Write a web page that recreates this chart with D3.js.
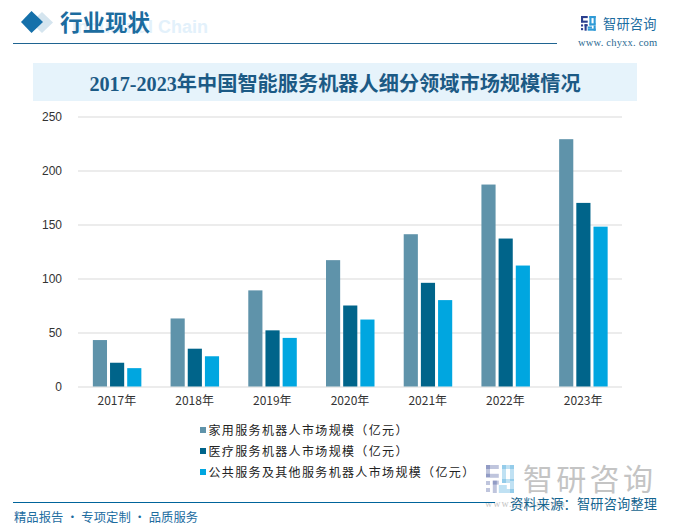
<!DOCTYPE html>
<html><head><meta charset="utf-8">
<script src="https://cdn.jsdelivr.net/npm/d3@7"></script>
<style>html,body{margin:0;padding:0;background:#fff}svg{display:block}</style>
</head><body><svg id="c" width="673" height="529"></svg>
<script>
const categories=["2017年","2018年","2019年","2020年","2021年","2022年","2023年"];
const seriesNames=["家用服务机器人市场规模（亿元）","医疗服务机器人市场规模（亿元）","公共服务及其他服务机器人市场规模（亿元）"];
const homeValues=[43,63,89,117,141,187,229];
const medicalValues=[22,35,52,75,96,137,170];
const publicValues=[17,28,45,62,80,112,148];
const seriesColors=["#5f93aa","#00648a","#00a6e0"];
const yTicks=[0,50,100,150,200,250];
const allSeries=[homeValues,medicalValues,publicValues];
const CJK='"Noto Sans CJK SC",sans-serif';
const svg=d3.select("#c");

function t(x,y,s,size,fill,o={}){
  return svg.append("text").attr("x",x).attr("y",y).text(s)
    .attr("font-size",size).attr("fill",fill)
    .attr("font-family",o.family||CJK)
    .attr("font-weight",o.weight||400)
    .attr("text-anchor",o.anchor||"start")
    .attr("letter-spacing",o.ls||0)
    .attr("opacity",o.op==null?1:o.op);
}
function rect(x,y,w,h,f,op=1){svg.append("rect").attr("x",x).attr("y",y).attr("width",w).attr("height",h).attr("fill",f).attr("opacity",op);}
function logo(x,y,s,op){
  const c1="#2b3f8f",c2="#2f9ad6";
  [[0,0,6.4,2,c1],[0,0,2,6,c1],[0,4.4,6.4,2,c1],[0,8,2,2,c1],[0,11.5,2,2,c1],[3.4,7.8,3,2,c1],[3.4,7.8,2,6.2,c1],
   [8,0,6,2,c2],[12,0,2,8,c2],[8,0,2,9,c2],[8,7,6,2,c2],[6.4,12,7.6,2,c2],[12,9,2,5,c2],[6.4,10,4,2,c2]]
   .forEach(r=>rect(x+r[0]*s,y+r[1]*s,r[2]*s,r[3]*s,r[4],op));
}

// header
t(72,33,"Industrial Chain",18,"#e3f1fb",{family:'"Liberation Sans",sans-serif',weight:700});
svg.append("path").attr("d","M42 12 L53 22.5 L42 33 L31 22.5 Z").attr("fill","#d5e5ef");
svg.append("path").attr("d","M31.5 11 L43 22 L31.5 33 L21 22 Z").attr("fill","#1570aa");
t(60,30.5,"行业现状",22.5,"#1c6c9f",{weight:700});
rect(13,43,544,1,"#1f6491");
logo(581,16,1.05,1);
t(603,29,"智研咨询",13.2,"#1c6c9f",{ls:.2});
t(578,46,"www. chyxx. com",10.5,"#2a6a92",{family:'"Liberation Serif",serif',ls:.2});

// title band
rect(33,63,604,38,"#e6f3fb");
t(335,91,"2017-2023年中国智能服务机器人细分领域市场规模情况",20.2,"#1c5a85",{anchor:"middle",weight:700,family:'"Liberation Serif","Noto Sans CJK SC",serif'});

// chart
const x=d3.scaleBand().domain(categories).range([78,622]);
const y=d3.scaleLinear().domain([0,250]).range([386.5,116.5]);
const inner=d3.scaleBand().domain(d3.range(3)).range([-24,24.5]).paddingInner(0.176);

const gy=svg.append("g").attr("transform","translate(78,0)")
  .call(d3.axisLeft(y).tickValues(yTicks).tickSize(-544).tickPadding(16));
gy.select(".domain").remove();
gy.selectAll(".tick line").attr("stroke","#d9d9d9").attr("stroke-width",1);
gy.selectAll("text").attr("font-size",12).attr("fill","#333").attr("font-family",'"Liberation Sans",sans-serif');

const gx=svg.append("g").attr("transform","translate(0,386.5)")
  .call(d3.axisBottom(x).tickSize(0).tickPadding(10));
gx.select(".domain").remove();
gx.selectAll("text").attr("font-size",12).attr("fill","#333").attr("font-family",CJK);

allSeries.forEach((vals,i)=>{
  svg.append("g").selectAll("rect").data(vals).join("rect")
    .attr("x",(d,j)=>x(categories[j])+x.bandwidth()/2+inner(i))
    .attr("width",inner.bandwidth())
    .attr("y",d=>y(d))
    .attr("height",d=>y(0)-y(d))
    .attr("fill",seriesColors[i]);
});

// legend
seriesNames.forEach((s,i)=>{
  const ly=430+i*21;
  rect(200,ly-3,6,6,seriesColors[i]);
  t(208.5,ly+4.5,s,12,"#222",{ls:1.35});
});

// watermark and footer
logo(486,465,2,0.3);
t(523,490,"智研咨询",30,"#c4c4c4",{ls:3.3});
t(485,507,"www.chyxx.com",10,"#c4c4c4",{family:'"Liberation Serif",serif',ls:1});
rect(13,502,482,1,"#00649b");
t(14,522,"精品报告 · 专项定制 · 品质服务",12.3,"#1c6c9f",{ls:.05});
t(510,509,"资料来源：智研咨询整理",13.2,"#14648f",{ls:.2});
</script></body></html>
